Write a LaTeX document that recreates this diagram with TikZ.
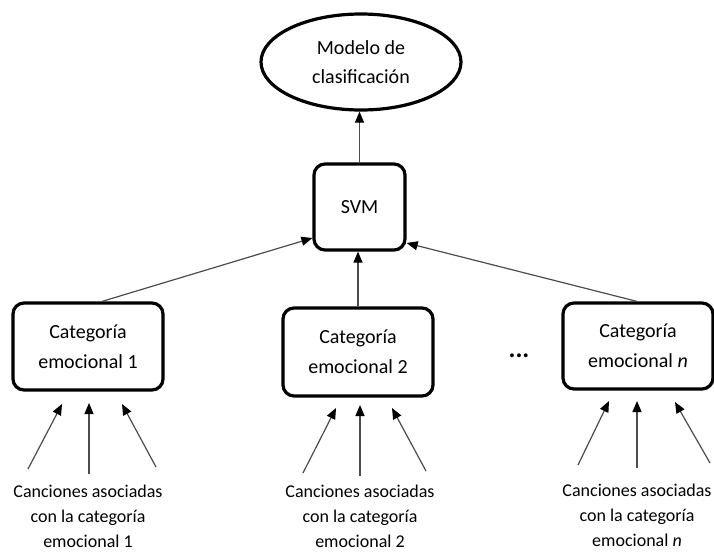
\documentclass[tikz,border=0pt]{standalone}
\usepackage{fontspec}
\setmainfont{Carlito}
\usetikzlibrary{arrows.meta,shapes.geometric,calc}
\begin{document}
\begin{tikzpicture}[x=1pt,y=-1pt,
  box/.style={draw,line width=3.2pt,rounded corners=11pt,minimum width=150pt,minimum height=87pt,align=center,font=\fontsize{20}{30}\selectfont,inner sep=0pt},
  conn/.style={draw=black!70,line width=1.2pt,-{Triangle[length=11pt,width=9pt,fill=black,color=black]}},
  lbl/.style={align=center,font=\fontsize{18}{25}\selectfont,inner sep=0pt}]
\useasboundingbox (0,0) rectangle (714,552);
\node[draw,ellipse,line width=3.2pt,minimum width=200pt,minimum height=96pt,align=center,font=\fontsize{20}{29}\selectfont,inner sep=0pt] (model) at (361,62) {Modelo de\\clasificación};
\node[box,minimum width=91pt,minimum height=86pt] (svm) at (359.5,207) {SVM};
\node[box] (c1) at (88,346.5) {Categoría\\emocional 1};
\node[box,minimum height=88pt] (c2) at (358,352) {Categoría\\emocional 2};
\node[box,minimum height=86pt] (cn) at (638,346) {Categoría\\emocional \textit{n}};
\node[font=\fontsize{26}{28}\selectfont\bfseries,anchor=base,inner sep=0pt] (dots) at (519,357) {...};
\node[lbl] (t1) at (88,516.5) {Canciones asociadas\\con la categoría\\emocional 1};
\node[lbl] (t2) at (360,516) {Canciones asociadas\\con la categoría\\emocional 2};
\node[lbl] (tn) at (637,515) {Canciones asociadas\\con la categoría\\emocional \textit{n}};
% SVM to model
\draw[conn] (svm.north) -- (svm.north |- model.south);
% categories to SVM
\draw[conn] ([xshift=14pt]c1.north) -- ([yshift=-31pt]svm.west);
\draw[conn] (c2.north) -- (c2.north |- svm.south);
\draw[conn] ([xshift=-1pt]cn.north) -- ([yshift=-36pt]svm.east);
% songs to categories
\coordinate (a1s) at (28,469);  \coordinate (a1e) at (62,404);
\coordinate (b1s) at (89,474);  \coordinate (b1e) at (89,403);
\coordinate (d1s) at (156,467); \coordinate (d1e) at (122,404);
\coordinate (a2s) at (303,473); \coordinate (a2e) at (336,408);
\coordinate (b2s) at (360,476); \coordinate (b2e) at (360,405);
\coordinate (d2s) at (426,471); \coordinate (d2e) at (392,408);
\coordinate (ans) at (578,465); \coordinate (ane) at (609,401);
\coordinate (bns) at (637,468); \coordinate (bne) at (637,401);
\coordinate (dns) at (710,463); \coordinate (dne) at (675,402);
\foreach \s/\e in {a1s/a1e,b1s/b1e,d1s/d1e,a2s/a2e,b2s/b2e,d2s/d2e,ans/ane,bns/bne,dns/dne}
  \draw[conn] (\s) -- (\e);
\end{tikzpicture}
\end{document}
